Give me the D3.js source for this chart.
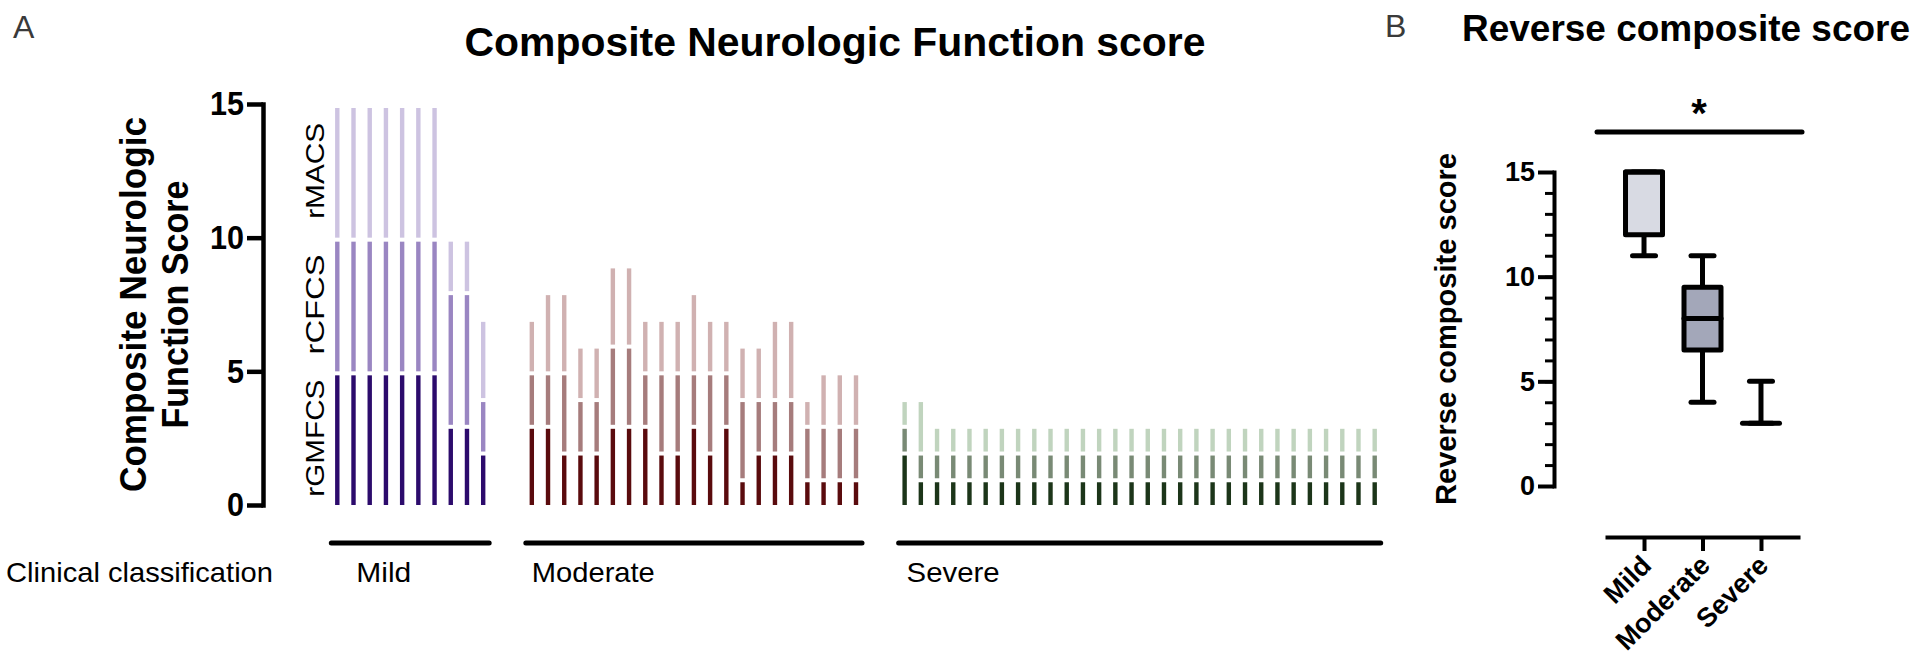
<!DOCTYPE html>
<html>
<head>
<meta charset="utf-8">
<script src="https://cdn.jsdelivr.net/npm/d3@7"></script>
<style>
  body { margin: 0; background: #fff; }
  text { font-family: "Liberation Sans", Arial, Helvetica, sans-serif; }
</style>
</head>
<body>
<div id="chart"></div>
<script>
//panel A data: one bar per patient, three stacked sub scores
var groups = ["Mild", "Moderate", "Severe"];
var components = ["rGMFCS", "rCFCS", "rMACS"];

var mildGMFCS = [5, 5, 5, 5, 5, 5, 5, 3, 3, 2];
var mildCFCS  = [5, 5, 5, 5, 5, 5, 5, 5, 5, 2];
var mildMACS  = [5, 5, 5, 5, 5, 5, 5, 2, 2, 3];

var moderateGMFCS = [3, 3, 2, 2, 2, 3, 3, 3, 2, 2, 3, 2, 3, 1, 2, 2, 2, 1, 1, 1, 1];
var moderateCFCS  = [2, 2, 3, 2, 2, 3, 3, 2, 3, 3, 2, 3, 2, 3, 2, 2, 2, 2, 2, 2, 2];
var moderateMACS  = [2, 3, 3, 2, 2, 3, 3, 2, 2, 2, 3, 2, 2, 2, 2, 3, 3, 1, 2, 2, 2];

var severeGMFCS = [2, 1, 1, 1, 1, 1, 1, 1, 1, 1, 1, 1, 1, 1, 1, 1, 1, 1, 1, 1, 1, 1, 1, 1, 1, 1, 1, 1, 1, 1];
var severeCFCS  = [1, 1, 1, 1, 1, 1, 1, 1, 1, 1, 1, 1, 1, 1, 1, 1, 1, 1, 1, 1, 1, 1, 1, 1, 1, 1, 1, 1, 1, 1];
var severeMACS  = [1, 2, 1, 1, 1, 1, 1, 1, 1, 1, 1, 1, 1, 1, 1, 1, 1, 1, 1, 1, 1, 1, 1, 1, 1, 1, 1, 1, 1, 1];

var scoreTicks = [0, 5, 10, 15];

//panel B data: box plot of the reverse composite score
var boxGroups = ["Mild", "Moderate", "Severe"];
var boxMin    = [11, 4, 3];
var boxQ1     = [12, 6.5, 3];
var boxMedian = [15, 8, 3];
var boxQ3     = [15, 9.5, 3];
var boxMax    = [15, 11, 5];

//colours: dark / mid / light per group
var groupColors = {
    Mild:     ["#2c0b6c", "#9a86c2", "#cdc3e1"],
    Moderate: ["#5a0b0d", "#a67c7c", "#d0b1b1"],
    Severe:   ["#1c3519", "#798a75", "#c0d4be"]
};
var boxFills = ["#d8dae3", "#a3a7b9", "#ffffff"];

var svgWidth = 1920;
var svgHeight = 668;

var svg = d3.select("#chart")
    .append("svg")
    .attr("width", svgWidth)
    .attr("height", svgHeight);

//build patient rows, with two empty slots between groups
var rows = [];
var slots = [];
var groupData = {
    Mild: [mildGMFCS, mildCFCS, mildMACS],
    Moderate: [moderateGMFCS, moderateCFCS, moderateMACS],
    Severe: [severeGMFCS, severeCFCS, severeMACS]
};
groups.forEach(function(g, gi) {
    if (gi > 0) {
        slots.push("gap" + gi + "a");
        slots.push("gap" + gi + "b");
    }
    var vals = groupData[g];
    vals[0].forEach(function(v, i) {
        var id = g + i;
        slots.push(id);
        var start = 0;
        components.forEach(function(c, ci) {
            var value = vals[ci][i];
            rows.push({id: id, group: g, comp: ci, start: start, end: start + value});
            start += value;
        });
    });
});

//scales panel A
var xA = d3.scalePoint()
    .domain(slots)
    .range([337.3, 1374.7]);
var yA = d3.scaleLinear()
    .domain([0, 15])
    .range([505, 104]);

//axis panel A
var axisA = svg.append("g")
    .attr("transform", "translate(263, 0)")
    .call(d3.axisLeft(yA).tickValues(scoreTicks).tickSize(16).tickSizeOuter(0).tickPadding(3));
axisA.select(".domain").attr("stroke-width", 4.5).attr("stroke-linecap", "square");
axisA.selectAll(".tick line").attr("stroke-width", 4.5);
axisA.selectAll(".tick text")
    .attr("font-size", 34)
    .attr("font-weight", "bold")
    .attr("fill", "#000")
    .attr("textLength", d => String(d).length * 17)
    .attr("lengthAdjust", "spacingAndGlyphs")
    .attr("font-family", "Liberation Sans, Arial, sans-serif");

//stacked segments
svg.append("g").selectAll("rect")
    .data(rows.filter(d => d.end > d.start))
    .enter()
    .append("rect")
    .attr("x", d => xA(d.id) - 2.2)
    .attr("width", 4.4)
    .attr("y", d => yA(d.end) + 4)
    .attr("height", d => yA(d.start) - yA(d.end) - 4)
    .attr("fill", d => groupColors[d.group][d.comp]);

//component labels
var compLabels = [
    {text: "rGMFCS", mid: 2.5, len: 117},
    {text: "rCFCS", mid: 7.5, len: 100},
    {text: "rMACS", mid: 12.5, len: 96}
];
svg.append("g").selectAll("text")
    .data(compLabels)
    .enter()
    .append("text")
    .attr("transform", d => `translate(324, ${yA(d.mid)}) rotate(-90)`)
    .attr("text-anchor", "middle")
    .attr("font-size", 25)
    .attr("textLength", d => d.len)
    .attr("lengthAdjust", "spacingAndGlyphs")
    .text(d => d.text);

//y title panel A
var yTitleA = svg.append("text")
    .attr("transform", `translate(146, ${yA(7.5)}) rotate(-90)`)
    .attr("text-anchor", "middle")
    .attr("font-size", 37)
    .attr("font-weight", "bold");
yTitleA.append("tspan").attr("x", 0).attr("dy", 0)
    .attr("textLength", 375).attr("lengthAdjust", "spacingAndGlyphs")
    .text("Composite Neurologic");
yTitleA.append("tspan").attr("x", 0).attr("dy", 42)
    .attr("textLength", 248).attr("lengthAdjust", "spacingAndGlyphs")
    .text("Function Score");

//title panel A
svg.append("text")
    .attr("x", 835)
    .attr("y", 56)
    .attr("text-anchor", "middle")
    .attr("font-size", 41)
    .attr("font-weight", "bold")
    .attr("textLength", 741)
    .attr("lengthAdjust", "spacingAndGlyphs")
    .text("Composite Neurologic Function score");

svg.append("text")
    .attr("x", 13)
    .attr("y", 38)
    .attr("font-size", 32)
    .attr("fill", "#3a3a3a")
    .text("A");

//group brackets under the bars
var labelOffsets = {Mild: 25, Moderate: 6, Severe: 8};
var labelLengths = {Mild: 55, Moderate: 123, Severe: 93};
groups.forEach(function(g) {
    var ids = slots.filter(s => s.indexOf(g) === 0);
    var x0 = xA(ids[0]) - 6;
    var x1 = xA(ids[ids.length - 1]) + 6;
    svg.append("line")
        .attr("x1", x0).attr("x2", x1)
        .attr("y1", 543).attr("y2", 543)
        .attr("stroke", "#000")
        .attr("stroke-width", 5)
        .attr("stroke-linecap", "round");
    svg.append("text")
        .attr("x", x0 + labelOffsets[g])
        .attr("y", 582)
        .attr("font-size", 28)
        .attr("textLength", labelLengths[g])
        .attr("lengthAdjust", "spacingAndGlyphs")
        .text(g);
});
svg.append("text")
    .attr("x", 6)
    .attr("y", 582)
    .attr("font-size", 28)
    .attr("textLength", 267)
    .attr("lengthAdjust", "spacingAndGlyphs")
    .text("Clinical classification");

//panel B
var yB = d3.scaleLinear()
    .domain([0, 15])
    .range([486, 172]);
var xB = d3.scalePoint()
    .domain(boxGroups)
    .range([1605, 1800])
    .padding(0.667);

var minorB = svg.append("g")
    .attr("transform", "translate(1554, 0)")
    .call(d3.axisLeft(yB).tickValues(d3.range(0, 16)).tickSize(9).tickSizeOuter(0).tickFormat(""));
minorB.select(".domain").attr("stroke-width", 4).attr("stroke-linecap", "square");
minorB.selectAll(".tick line").attr("stroke-width", 3);

var majorB = svg.append("g")
    .attr("transform", "translate(1554, 0)")
    .call(d3.axisLeft(yB).tickValues(scoreTicks).tickSize(16).tickSizeOuter(0).tickPadding(3));
majorB.select(".domain").remove();
majorB.selectAll(".tick line").attr("stroke-width", 4);
majorB.selectAll(".tick text")
    .attr("font-size", 28)
    .attr("font-weight", "bold")
    .attr("fill", "#000")
    .attr("textLength", d => String(d).length * 15)
    .attr("lengthAdjust", "spacingAndGlyphs")
    .attr("font-family", "Liberation Sans, Arial, sans-serif");

var xAxisB = svg.append("g")
    .attr("transform", "translate(0, 537)")
    .call(d3.axisBottom(xB).tickSize(14).tickSizeOuter(0).tickFormat(""));
xAxisB.select(".domain").attr("stroke-width", 4);
xAxisB.selectAll(".tick line").attr("stroke-width", 4);

svg.append("g").selectAll("text")
    .data(boxGroups)
    .enter()
    .append("text")
    .attr("transform", d => `translate(${xB(d) + 9}, 567) rotate(-45)`)
    .attr("text-anchor", "end")
    .attr("font-size", 27)
    .attr("font-weight", "bold")
    .text(d => d);

//boxes and whiskers
var boxW = 37;
var capW = 23;
var boxes = svg.append("g").selectAll("g")
    .data(boxGroups)
    .enter()
    .append("g");
boxes.append("line")
    .attr("x1", d => xB(d)).attr("x2", d => xB(d))
    .attr("y1", (d, i) => yB(boxMin[i])).attr("y2", (d, i) => yB(boxMax[i]))
    .attr("stroke", "#000").attr("stroke-width", 5);
boxes.append("line")
    .attr("x1", d => xB(d) - capW / 2).attr("x2", d => xB(d) + capW / 2)
    .attr("y1", (d, i) => yB(boxMin[i])).attr("y2", (d, i) => yB(boxMin[i]))
    .attr("stroke", "#000").attr("stroke-width", 5).attr("stroke-linecap", "round");
boxes.append("line")
    .attr("x1", d => xB(d) - capW / 2).attr("x2", d => xB(d) + capW / 2)
    .attr("y1", (d, i) => yB(boxMax[i])).attr("y2", (d, i) => yB(boxMax[i]))
    .attr("stroke", "#000").attr("stroke-width", 5).attr("stroke-linecap", "round");
boxes.append("rect")
    .attr("x", d => xB(d) - boxW / 2)
    .attr("width", boxW)
    .attr("y", (d, i) => yB(boxQ3[i]))
    .attr("height", (d, i) => yB(boxQ1[i]) - yB(boxQ3[i]))
    .attr("fill", (d, i) => boxFills[i])
    .attr("stroke", "#000")
    .attr("stroke-width", 5)
    .attr("stroke-linejoin", "round");
boxes.append("line")
    .attr("x1", d => xB(d) - boxW / 2).attr("x2", d => xB(d) + boxW / 2)
    .attr("y1", (d, i) => yB(boxMedian[i])).attr("y2", (d, i) => yB(boxMedian[i]))
    .attr("stroke", "#000").attr("stroke-width", 5).attr("stroke-linecap", "round");

//significance bar
svg.append("line")
    .attr("x1", 1597).attr("x2", 1802)
    .attr("y1", 132).attr("y2", 132)
    .attr("stroke", "#000").attr("stroke-width", 5).attr("stroke-linecap", "round");
svg.append("text")
    .attr("x", 1699)
    .attr("y", 127)
    .attr("text-anchor", "middle")
    .attr("font-size", 40)
    .attr("font-weight", "bold")
    .text("*");

svg.append("text")
    .attr("transform", `translate(1456, ${yB(7.5)}) rotate(-90)`)
    .attr("text-anchor", "middle")
    .attr("font-size", 29)
    .attr("font-weight", "bold")
    .attr("textLength", 352)
    .attr("lengthAdjust", "spacingAndGlyphs")
    .text("Reverse composite score");

svg.append("text")
    .attr("x", 1462)
    .attr("y", 41)
    .attr("font-size", 37)
    .attr("font-weight", "bold")
    .attr("textLength", 448)
    .attr("lengthAdjust", "spacingAndGlyphs")
    .text("Reverse composite score");

svg.append("text")
    .attr("x", 1385)
    .attr("y", 37)
    .attr("font-size", 32)
    .attr("fill", "#3a3a3a")
    .text("B");
</script>
</body>
</html>
